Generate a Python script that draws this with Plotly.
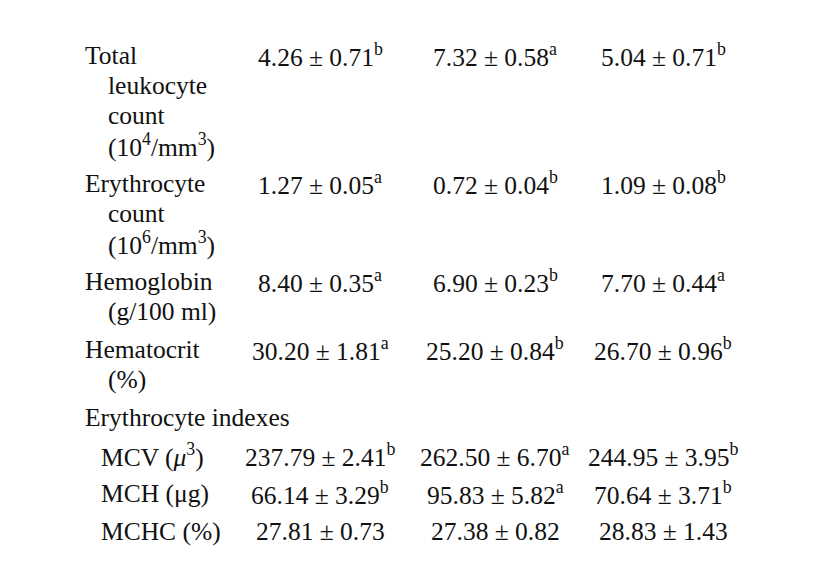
import plotly.graph_objects as go

# ---- table data ----
row_labels = [
    ["Total", "leukocyte", "count", "(10<sup>4</sup>/mm<sup>3</sup>)"],
    ["Erythrocyte", "count", "(10<sup>6</sup>/mm<sup>3</sup>)"],
    ["Hemoglobin", "(g/100 ml)"],
    ["Hematocrit", "(%)"],
    ["Erythrocyte indexes"],
    ["MCV (<i>μ</i><sup>3</sup>)"],
    ["MCH (μg)"],
    ["MCHC (%)"],
]
sub_rows = [False, False, False, False, False, True, True, True]
col1 = ["4.26 ± 0.71<sup>b</sup>", "1.27 ± 0.05<sup>a</sup>", "8.40 ± 0.35<sup>a</sup>",
        "30.20 ± 1.81<sup>a</sup>", "", "237.79 ± 2.41<sup>b</sup>",
        "66.14 ± 3.29<sup>b</sup>", "27.81 ± 0.73"]
col2 = ["7.32 ± 0.58<sup>a</sup>", "0.72 ± 0.04<sup>b</sup>", "6.90 ± 0.23<sup>b</sup>",
        "25.20 ± 0.84<sup>b</sup>", "", "262.50 ± 6.70<sup>a</sup>",
        "95.83 ± 5.82<sup>a</sup>", "27.38 ± 0.82"]
col3 = ["5.04 ± 0.71<sup>b</sup>", "1.09 ± 0.08<sup>b</sup>", "7.70 ± 0.44<sup>a</sup>",
        "26.70 ± 0.96<sup>b</sup>", "", "244.95 ± 3.95<sup>b</sup>",
        "70.64 ± 3.71<sup>b</sup>", "28.83 ± 1.43"]

# ---- layout (pixel units) ----
LINE_H = 30
ROW_GAP = 8
TOP = 47
LABEL_X = 75
INDENT_X = 98
SUB_X = 91
COL_X = [312, 487, 655]
FONT = dict(family="Liberation Serif, Times New Roman, serif", size=25.5, color="#111")

fig = go.Figure()
ann = []
y = TOP
for i, lines in enumerate(row_labels):
    for j, txt in enumerate(lines):
        x = SUB_X if sub_rows[i] else (LABEL_X if j == 0 else INDENT_X)
        ann.append(dict(x=x, y=y + j * LINE_H, text=txt, xanchor="left"))
    for cx, col in zip(COL_X, [col1, col2, col3]):
        if col[i]:
            ann.append(dict(x=cx, y=y, text=col[i], xanchor="center"))
    y += len(lines) * LINE_H + ROW_GAP

for a in ann:
    a.update(xref="x", yref="y", yanchor="middle", showarrow=False, font=FONT)

fig.update_layout(
    width=820, height=585,
    margin=dict(l=0, r=0, t=0, b=0),
    paper_bgcolor="white", plot_bgcolor="white",
    annotations=ann,
    xaxis=dict(range=[0, 820], visible=False, fixedrange=True),
    yaxis=dict(range=[585, 0], visible=False, fixedrange=True),
    showlegend=False,
)

fig.write_html("out.html")
